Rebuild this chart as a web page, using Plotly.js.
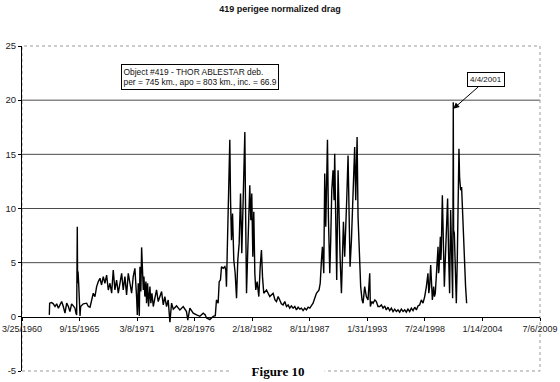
<!DOCTYPE html>
<html>
<head>
<meta charset="utf-8">
<script src="https://cdn.plot.ly/plotly-3.0.1.min.js"></script>
<style>
  html, body { margin: 0; padding: 0; background: #fff; }
  #chart { width: 560px; height: 382px; }
</style>
</head>
<body>
<div id="chart"></div>
<script>
// ---- Data (decimal years, normalized drag) ----
const years1 = [1962.83,1962.86,1963.05,1963.21,1963.37,1963.53,1963.69,1963.84,1964.00,1964.16,1964.32,1964.48,1964.64,1964.79,1964.95,1965.11,1965.27,1965.36,1965.43,1965.49,1965.52,1965.56,1965.62,1965.68,1965.75,1965.81,1966.06,1966.38,1966.54,1966.70,1966.85,1967.01,1967.17,1967.33,1967.49,1967.65,1967.80,1967.96,1968.12,1968.28,1968.44,1968.60,1968.76,1968.91,1969.07,1969.23,1969.39,1969.55,1969.71,1969.86,1970.02,1970.18,1970.34,1970.50,1970.66,1970.81,1970.97,1971.13,1971.20,1971.29,1971.39,1971.45,1971.54,1971.61,1971.67,1971.77,1971.83,1971.92,1972.02,1972.08,1972.18,1972.27,1972.40,1972.49,1972.59,1972.72,1972.87,1973.03,1973.19,1973.35,1973.51,1973.67,1973.82,1973.98,1974.14,1974.30,1974.46,1974.62,1974.93,1975.25,1975.57,1975.88,1976.00,1976.20,1976.52,1976.84,1977.15,1977.47,1977.65,1977.79,1978.10,1978.42,1978.62];
const drag1 = [0.18,1.26,1.32,1.20,0.95,1.20,0.80,1.10,1.41,0.95,0.34,1.26,0.95,0.49,1.20,1.01,0.80,0.34,0.18,8.31,3.10,4.17,3.10,0.64,0.09,0.95,1.20,1.26,0.95,0.89,1.56,2.18,1.87,2.79,3.25,3.56,2.94,3.71,3.10,3.86,2.48,3.10,2.18,4.32,2.48,3.40,2.18,3.10,4.02,2.48,3.71,2.02,4.02,3.10,2.18,3.71,4.48,1.87,0.18,3.10,0.09,4.63,2.33,6.41,4.94,2.48,3.71,1.87,3.25,1.26,3.10,0.95,2.79,1.26,2.18,0.95,1.72,2.48,1.41,1.87,2.33,1.10,1.87,0.95,1.56,-0.50,1.26,0.71,1.01,0.64,0.95,0.49,-0.30,0.80,0.34,0.18,0.05,0.34,0.20,-0.10,-0.25,0.05,0.10];

const years2 = [1978.73,1978.89,1978.99,1979.11,1979.21,1979.37,1979.53,1979.62,1979.68,1979.84,1979.94,1980.00,1980.07,1980.16,1980.26,1980.38,1980.51,1980.64,1980.76,1980.89,1981.02,1981.14,1981.27,1981.36,1981.43,1981.49,1981.59,1981.71,1981.81,1981.90,1982.00,1982.09,1982.19,1982.28,1982.38,1982.47,1982.60,1982.76,1982.89,1983.01,1983.11,1983.23,1983.49,1983.80,1984.12,1984.30,1984.44,1984.60,1984.75,1984.90,1985.07,1985.23,1985.39,1985.55,1985.70,1985.86,1986.02,1986.18,1986.34,1986.50,1986.66,1986.81,1986.97,1987.13,1987.29,1987.45,1987.61,1987.77,1987.92,1988.08,1988.24,1988.49,1988.60,1988.72,1988.81,1988.94,1989.03,1989.13,1989.19,1989.29,1989.38,1989.51,1989.60,1989.70,1989.82,1989.92,1989.98,1990.08,1990.17,1990.30,1990.39,1990.49,1990.62,1990.71,1990.81,1990.93,1991.03,1991.12,1991.25,1991.35,1991.44,1991.57,1991.66,1991.79,1991.88,1991.98,1992.11,1992.20,1992.33,1992.45,1992.58,1992.68,1992.83,1992.99,1993.15,1993.31,1993.37,1993.50,1993.63,1993.80,1993.94,1994.10,1994.26];
const drag2 = [1.56,1.26,3.25,3.40,4.63,4.48,4.63,4.32,2.79,9.23,12.30,16.34,10.76,7.08,9.54,5.24,4.02,1.72,5.24,6.78,11.38,5.86,10.76,14.44,17.05,10.76,2.18,6.16,10.76,12.14,8.92,11.38,5.55,9.69,4.02,2.48,3.25,1.87,4.63,6.16,3.71,2.18,2.48,1.87,2.18,1.56,1.41,1.87,1.56,1.20,1.10,1.41,0.95,1.10,0.80,1.01,0.80,0.95,0.64,0.89,0.71,0.80,0.58,0.80,0.64,0.89,0.80,1.10,1.26,1.72,2.18,2.48,3.10,5.24,6.47,4.02,13.22,8.31,10.76,16.34,9.23,4.02,7.08,11.68,13.52,10.76,15.06,7.70,3.40,13.52,9.23,5.55,2.18,6.47,8.77,5.55,7.70,10.76,14.90,9.23,4.63,7.08,9.54,12.30,15.67,10.76,16.59,9.23,4.63,2.79,1.56,1.26,2.79,1.87,1.56,4.02,0.95,1.41,1.26,1.56,1.41,0.95,0.95];

const years3 = [1994.42,1994.58,1994.74,1994.89,1995.05,1995.21,1995.37,1995.53,1995.69,1995.84,1996.00,1996.16,1996.32,1996.48,1996.64,1996.79,1996.95,1997.11,1997.27,1997.43,1997.59,1997.75,1997.90,1998.06,1998.22,1998.38,1998.54,1998.70,1998.85,1998.93,1999.01,1999.11,1999.20,1999.27,1999.39,1999.47,1999.55,1999.63,1999.71,1999.81,1999.86,1999.90,2000.03,2000.08,2000.12,2000.22,2000.31,2000.41,2000.50,2000.60,2000.72,2000.82,2000.91,2001.01,2001.10,2001.20,2001.23,2001.26,2001.29,2001.36,2001.45,2001.55,2001.64,2001.74,2001.80,2001.86,2001.96,2002.05,2002.15,2002.24,2002.34,2002.43,2002.53];
const drag3 = [1.10,0.80,1.01,0.64,0.89,0.58,0.80,0.49,0.71,0.49,0.64,0.43,0.71,0.49,0.64,0.43,0.71,0.49,0.80,0.58,0.89,0.64,1.01,1.10,1.56,1.26,1.87,2.79,4.02,2.18,2.79,4.78,2.18,1.56,2.79,1.87,2.18,3.40,4.63,6.47,4.02,4.32,7.39,5.24,6.16,11.23,7.08,2.79,5.24,8.31,10.92,5.55,2.18,9.85,4.63,1.72,9.23,19.80,8.00,7.70,4.32,1.26,5.24,11.99,15.52,12.91,11.68,11.99,9.23,7.08,4.63,2.79,1.26];

// Axis ticks
const dateTickVals = [1960.23,1965.71,1971.18,1976.66,1982.13,1987.61,1993.08,1998.56,2004.04,2009.51];
const dateTickText = ['3/25/1960','9/15/1965','3/8/1971','8/28/1976','2/18/1982','8/11/1987','1/31/1993','7/24/1998','1/14/2004','7/6/2009'];
const yTickVals = [-5,0,5,10,15,20,25];
const yTickText = ['-5','0','5','10','15','20','25'];
const gridVals = [5,10,15,20];

// Annotation texts
const titleText = '419 perigee normalized drag';
const infoText = 'Object #419 - THOR ABLESTAR deb.<br>per = 745 km., apo = 803 km., inc. = 66.9';
const peakDate = 2001.26, peakLabel = '4/4/2001', peakPointerY = 19.2;
const figureText = 'Figure 10';

const sans = 'Liberation Sans, Arial, sans-serif';
const serif = 'Liberation Serif, Times New Roman, serif';

const trace = {
  type: 'scatter', mode: 'lines',
  x: years1.concat(years2, years3),
  y: drag1.concat(drag2, drag3),
  line: { color: '#000', width: 1.4 },
  hoverinfo: 'skip'
};

const shapes = gridVals.map(v => ({
  type: 'line', xref: 'paper', x0: 0, x1: 1, yref: 'y', y0: v, y1: v,
  line: { color: '#4a4a4a', width: 1 }, layer: 'below'
}));
shapes.push({
  type: 'rect', xref: 'paper', yref: 'paper', x0: 0, x1: 1, y0: 0, y1: 1,
  line: { color: '#9a9a9a', width: 1, dash: 'dot' }, layer: 'below'
});

const layout = {
  width: 560, height: 382,
  margin: { l: 22, r: 19.5, t: 45.5, b: 11.3, pad: 0 },
  paper_bgcolor: '#fff', plot_bgcolor: '#fff',
  showlegend: false,
  title: {
    text: '<b>' + titleText + '</b>',
    font: { family: sans, size: 9, color: '#111' },
    x: 0.5, xanchor: 'center', y: 0.976, yanchor: 'middle'
  },
  xaxis: {
    range: [1960.23, 2009.51],
    tickmode: 'array', tickvals: dateTickVals, ticktext: dateTickText,
    anchor: 'free', position: 5 / 30,
    showline: true, linecolor: '#000', linewidth: 1,
    ticks: 'outside', ticklen: 3, tickcolor: '#000', tickwidth: 1,
    showgrid: false, zeroline: false,
    tickfont: { family: sans, size: 9, color: '#222' }
  },
  yaxis: {
    range: [-5, 25],
    tickmode: 'array', tickvals: yTickVals, ticktext: yTickText,
    showline: true, linecolor: '#000', linewidth: 1,
    ticks: 'outside', ticklen: 3, tickcolor: '#000', tickwidth: 1,
    showgrid: false, zeroline: false,
    tickfont: { family: sans, size: 9.5, color: '#222' }
  },
  shapes: shapes,
  annotations: [
    {
      xref: 'paper', yref: 'paper', x: 0.191, y: 0.946,
      xanchor: 'left', yanchor: 'top', align: 'left',
      text: infoText, showarrow: false,
      font: { family: sans, size: 8.4, color: '#111' },
      bordercolor: '#000', borderwidth: 1, borderpad: 1.5, bgcolor: '#fff'
    },
    {
      xref: 'x', yref: 'y', x: peakDate, y: peakPointerY,
      text: peakLabel, showarrow: true,
      arrowhead: 2, arrowsize: 1.2, arrowwidth: 1, arrowcolor: '#000',
      ax: 33, ay: -29,
      font: { family: sans, size: 8, color: '#111' },
      bordercolor: '#000', borderwidth: 1, borderpad: 2, bgcolor: '#fff'
    },
    {
      xref: 'paper', yref: 'paper', x: 0.494, y: 0,
      xanchor: 'center', yanchor: 'middle',
      text: '<b>' + figureText + '</b>', showarrow: false,
      font: { family: serif, size: 13, color: '#000' },
      bgcolor: '#fff', width: 90
    }
  ]
};

Plotly.newPlot('chart', [trace], layout, { displayModeBar: false, staticPlot: true });
</script>
</body>
</html>
